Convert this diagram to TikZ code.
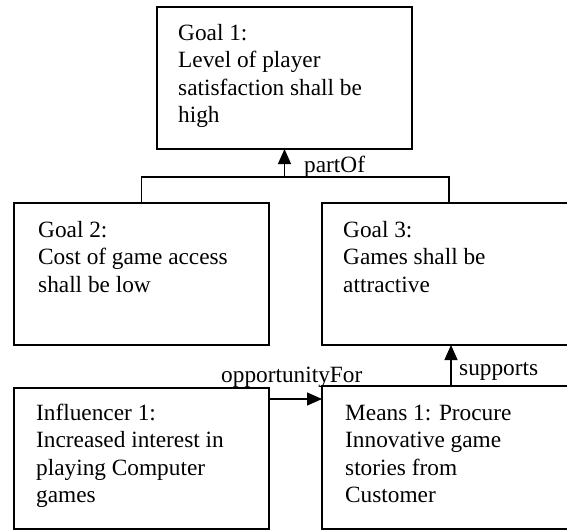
\documentclass[tikz,border=0pt]{standalone}
\usepackage{fontspec}
\setmainfont{Liberation Serif}
\usetikzlibrary{arrows.meta}
\begin{document}
\begin{tikzpicture}[x=1pt,y=-1pt,
  box/.style={draw,line width=1.4pt,minimum width=#1,minimum height=142pt,inner sep=0pt,outer sep=0pt,anchor=north west},
  txt/.style={anchor=base west,inner sep=0pt,font=\fontsize{23.3}{27.5}\selectfont},
  lbl/.style={anchor=base west,inner sep=0pt,font=\fontsize{23.3}{27.5}\selectfont},
  conn/.style={line width=1.2pt},
  arr/.style={line width=1.2pt,-{Triangle[length=15pt,width=13pt]}}]
\clip (0,0) rectangle (567,531);
\fill[white] (0,0) rectangle (567,531);
% boxes
\node[box=255pt] (g1) at (157,7) {};
\node[box=255pt] (g2) at (14,203) {};
\node[box=290pt] (g3) at (322,203) {};
\node[box=255pt,minimum height=141pt] (i1) at (14,388) {};
\node[box=290pt,minimum height=143pt] (m1) at (322,386) {};
% texts
\node[txt] (t1) at (178,40) {\begin{tabular}[t]{@{}l@{}}Goal 1:\\Level of player\\satisfaction shall be\\high\end{tabular}};
\node[txt] (t2) at (38,237) {\begin{tabular}[t]{@{}l@{}}Goal 2:\\Cost of game access\\shall be low\end{tabular}};
\node[txt] (t3) at (343,237) {\begin{tabular}[t]{@{}l@{}}Goal 3:\\Games shall be\\attractive\end{tabular}};
\node[txt] (t4) at (36,420) {\begin{tabular}[t]{@{}l@{}}Influencer 1:\\Increased interest in\\playing Computer\\games\end{tabular}};
\node[txt] (t5) at (345,420) {\begin{tabular}[t]{@{}l@{}}Means 1: Procure\\Innovative game\\stories from\\Customer\end{tabular}};
% connectors
\coordinate (jl) at (141.5,177);
\coordinate (jr) at (449,177);
\draw[conn] (g2.north) |- (jr) -- (jr |- g3.north);
\draw[arr] (g1.south |- jl) -- (g1.south);
\node[lbl] (lp) at (304,172) {partOf};
\coordinate (s) at (451,0);
\draw[arr] (s |- m1.north) -- (s |- g3.south);
\node[lbl] (ls) at (459,375) {supports};
\coordinate (o) at (0,399);
\draw[arr] (i1.east |- o) -- (m1.west |- o);
\node[lbl] (lo) at (221,382) {opportunityFor};
\end{tikzpicture}
\end{document}
